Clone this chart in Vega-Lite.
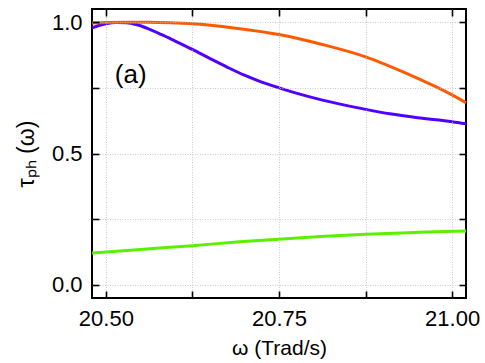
{
  "$schema": "https://vega.github.io/schema/vega-lite/v6.json",
  "width": 374,
  "height": 289,
  "autosize": {"type": "none"},
  "padding": {"left": 92, "top": 9, "right": 19, "bottom": 65},
  "config": {
    "font": "Liberation Sans",
    "view": {"stroke": "black", "strokeWidth": 2}
  },
  "datasets": {
    "curves": [
      {"series": "orange", "w": 20.48, "T": 0.997},
      {"series": "orange", "w": 20.5, "T": 0.999},
      {"series": "orange", "w": 20.53, "T": 1.0},
      {"series": "orange", "w": 20.5625, "T": 1.0},
      {"series": "orange", "w": 20.6, "T": 0.997},
      {"series": "orange", "w": 20.625, "T": 0.994},
      {"series": "orange", "w": 20.6875, "T": 0.977},
      {"series": "orange", "w": 20.75, "T": 0.953},
      {"series": "orange", "w": 20.8125, "T": 0.915},
      {"series": "orange", "w": 20.875, "T": 0.868},
      {"series": "orange", "w": 20.9375, "T": 0.801},
      {"series": "orange", "w": 21.0, "T": 0.723},
      {"series": "orange", "w": 21.02, "T": 0.693},
      {"series": "purple", "w": 20.48, "T": 0.978},
      {"series": "purple", "w": 20.49, "T": 0.987},
      {"series": "purple", "w": 20.5, "T": 0.994},
      {"series": "purple", "w": 20.515, "T": 0.999},
      {"series": "purple", "w": 20.53, "T": 0.998},
      {"series": "purple", "w": 20.545, "T": 0.99},
      {"series": "purple", "w": 20.56, "T": 0.976},
      {"series": "purple", "w": 20.58, "T": 0.953},
      {"series": "purple", "w": 20.6, "T": 0.928},
      {"series": "purple", "w": 20.625, "T": 0.896},
      {"series": "purple", "w": 20.65, "T": 0.862},
      {"series": "purple", "w": 20.675, "T": 0.829},
      {"series": "purple", "w": 20.7, "T": 0.798},
      {"series": "purple", "w": 20.725, "T": 0.772},
      {"series": "purple", "w": 20.75, "T": 0.75},
      {"series": "purple", "w": 20.78, "T": 0.726},
      {"series": "purple", "w": 20.81, "T": 0.705},
      {"series": "purple", "w": 20.845, "T": 0.684},
      {"series": "purple", "w": 20.875, "T": 0.668},
      {"series": "purple", "w": 20.91, "T": 0.651},
      {"series": "purple", "w": 20.95, "T": 0.636},
      {"series": "purple", "w": 21.0, "T": 0.621},
      {"series": "purple", "w": 21.02, "T": 0.613},
      {"series": "green", "w": 20.48, "T": 0.121},
      {"series": "green", "w": 20.55, "T": 0.135},
      {"series": "green", "w": 20.625, "T": 0.149},
      {"series": "green", "w": 20.693, "T": 0.164},
      {"series": "green", "w": 20.75, "T": 0.174},
      {"series": "green", "w": 20.81, "T": 0.184},
      {"series": "green", "w": 20.875, "T": 0.193},
      {"series": "green", "w": 20.95, "T": 0.2},
      {"series": "green", "w": 21.02, "T": 0.205}
    ],
    "notes": [
      {"label": "(a)", "w": 20.513, "T": 0.77}
    ]
  },
  "layer": [
    {
      "data": {"name": "curves"},
      "transform": [{"filter": "datum.series === 'purple'"}],
      "mark": {"type": "line", "color": "#5000ff", "strokeWidth": 3, "interpolate": "monotone"},
      "encoding": {
        "x": {
          "field": "w", "type": "quantitative",
          "scale": {"domain": [20.48, 21.02], "nice": false, "zero": false},
          "axis": {
            "orient": "bottom",
            "offset": -7,
            "zindex": 1,
            "values": [20.5, 20.625, 20.75, 20.875, 21.0],
            "labelExpr": "abs(datum.value*4 - round(datum.value*4)) < 0.001 ? format(datum.value, '.2f') : ''",
            "title": "ω (Trad/s)",
            "labelFont": "Liberation Sans", "titleFont": "Liberation Sans",
            "labelColor": "black", "titleColor": "black",
            "labelFontSize": 22, "titleFontSize": 21, "titleFontWeight": "normal",
            "domainOpacity": 0,
            "grid": true, "gridColor": "#bdbdbd", "gridDash": [1, 1.5], "gridWidth": 0.8,
            "ticks": true, "tickSize": 7, "tickColor": "black", "tickWidth": 1.6, "tickOpacity": 1,
            "labelPadding": 10,
            "titlePadding": 8
          }
        },
        "y": {
          "field": "T", "type": "quantitative",
          "scale": {"domain": [-0.05, 1.05], "nice": false, "zero": false},
          "axis": {
            "orient": "left",
            "offset": -7,
            "zindex": 1,
            "values": [0, 0.25, 0.5, 0.75, 1.0],
            "labelExpr": "abs(datum.value*2 - round(datum.value*2)) < 0.001 ? format(datum.value, '.1f') : ''",
            "title": "τₚₕ (ω)",
            "labelFont": "Liberation Sans", "titleFont": "Liberation Sans",
            "labelColor": "black", "titleColor": "black",
            "labelFontSize": 22, "titleFontSize": 23, "titleFontWeight": "normal",
            "domainOpacity": 0,
            "grid": true, "gridColor": "#bdbdbd", "gridDash": [1, 1.5], "gridWidth": 0.8,
            "ticks": true, "tickSize": 7, "tickColor": "black", "tickWidth": 1.6, "tickOpacity": 1,
            "labelPadding": 10,
            "titlePadding": 13
          }
        }
      }
    },
    {
      "data": {"name": "curves"},
      "transform": [{"filter": "datum.series === 'orange'"}],
      "mark": {"type": "line", "color": "#ff5a00", "strokeWidth": 3, "interpolate": "monotone"},
      "encoding": {
        "x": {
          "field": "w", "type": "quantitative",
          "axis": {"orient": "top", "offset": -7, "zindex": 1, "values": [20.5, 20.625, 20.75, 20.875, 21.0], "labels": false, "title": null, "grid": false, "domainOpacity": 0, "ticks": true, "tickSize": 7, "tickColor": "black", "tickWidth": 1.6, "tickOpacity": 1}
        },
        "y": {
          "field": "T", "type": "quantitative",
          "axis": {"orient": "right", "offset": -7, "zindex": 1, "values": [0, 0.25, 0.5, 0.75, 1.0], "labels": false, "title": null, "grid": false, "domainOpacity": 0, "ticks": true, "tickSize": 7, "tickColor": "black", "tickWidth": 1.6, "tickOpacity": 1}
        }
      }
    },
    {
      "data": {"name": "curves"},
      "transform": [{"filter": "datum.series === 'green'"}],
      "mark": {"type": "line", "color": "#5af000", "strokeWidth": 3, "interpolate": "monotone"},
      "encoding": {
        "x": {"field": "w", "type": "quantitative", "axis": null},
        "y": {"field": "T", "type": "quantitative", "axis": null}
      }
    },
    {
      "data": {"name": "notes"},
      "mark": {"type": "text", "align": "left", "baseline": "alphabetic", "fontSize": 26, "font": "Liberation Sans", "color": "black"},
      "encoding": {
        "text": {"field": "label"},
        "x": {"field": "w", "type": "quantitative", "axis": null},
        "y": {"field": "T", "type": "quantitative", "axis": null}
      }
    }
  ],
  "resolve": {"axis": {"x": "independent", "y": "independent"}}
}
